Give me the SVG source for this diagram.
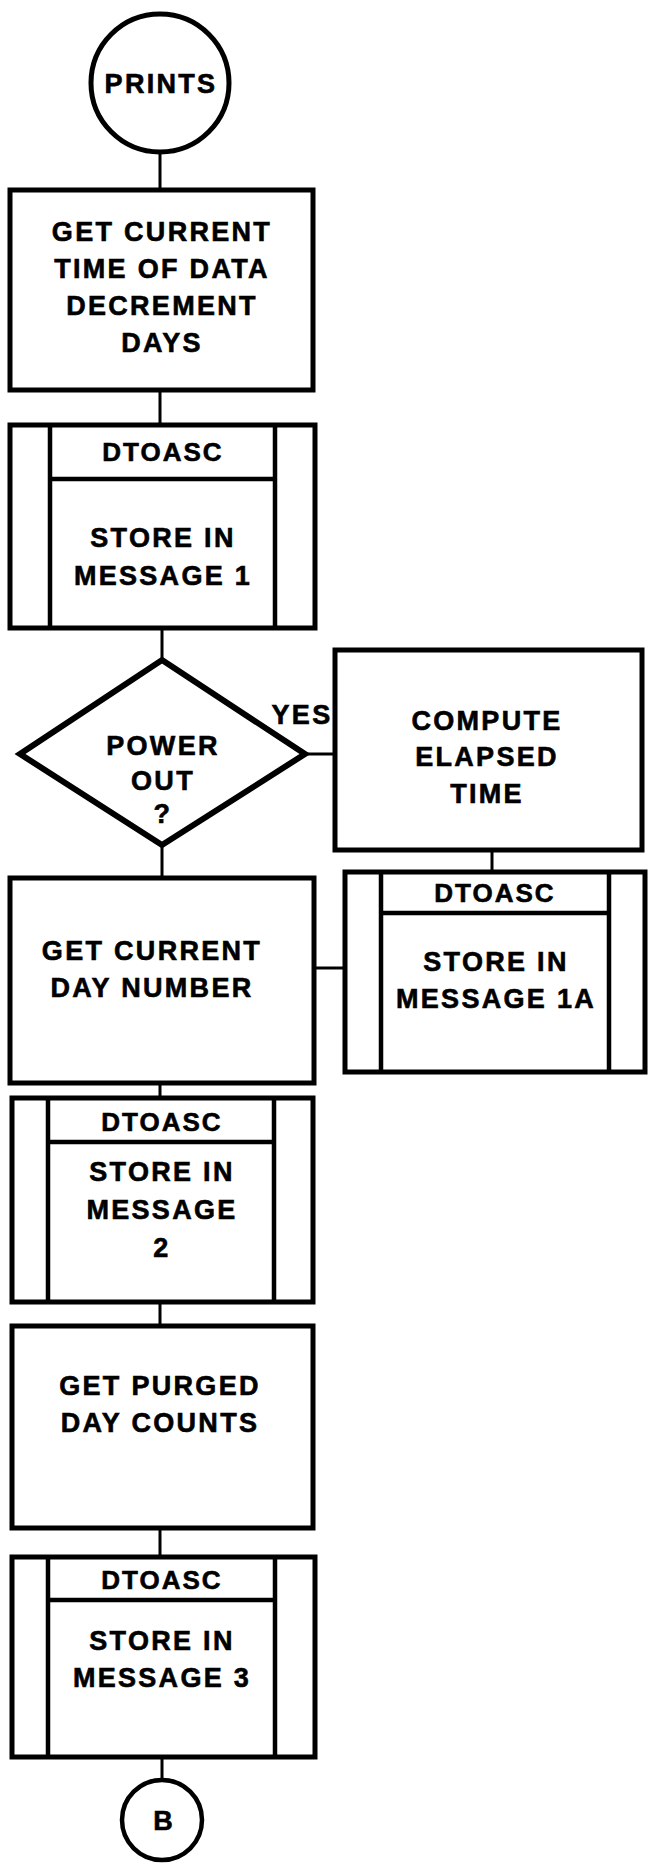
<svg xmlns="http://www.w3.org/2000/svg" width="653" height="1863" viewBox="0 0 653 1863">
<style>
.bg{fill:#fff}
.box{fill:#fff;stroke:#000;stroke-width:5;stroke-linejoin:miter}
.inner{stroke:#000;stroke-width:4.5;fill:none}
.conn{stroke:#000;stroke-width:3;fill:none}
.t{font-family:"Liberation Sans",Arial,Helvetica,sans-serif;font-weight:bold;font-size:27px;letter-spacing:2.3px;text-anchor:middle;fill:#000;stroke:#000;stroke-width:0.6px}
.h{font-size:26px;letter-spacing:2px}
</style>
<rect class="bg" x="0" y="0" width="653" height="1863"/>
<g id="connectors">
<line class="conn" x1="160" y1="152" x2="160" y2="190"/>
<line class="conn" x1="160" y1="390" x2="160" y2="425"/>
<line class="conn" x1="162" y1="628" x2="162" y2="660"/>
<line class="conn" x1="162" y1="845" x2="162" y2="878"/>
<line class="conn" x1="305" y1="754" x2="335" y2="754"/>
<line class="conn" x1="492" y1="850" x2="492" y2="872"/>
<line class="conn" x1="314" y1="968" x2="345" y2="968"/>
<line class="conn" x1="160" y1="1083" x2="160" y2="1098"/>
<line class="conn" x1="160" y1="1302" x2="160" y2="1326"/>
<line class="conn" x1="160" y1="1528" x2="160" y2="1557"/>
<line class="conn" x1="162" y1="1757" x2="162" y2="1780"/>
</g>
<g id="start">
<circle class="box" cx="160" cy="83" r="69"/>
<text class="t" x="161" y="93">PRINTS</text>
</g>
<g id="get-time">
<rect class="box" x="10" y="190" width="303" height="200"/>
<text class="t" x="162" y="241">GET CURRENT</text>
<text class="t" x="162" y="278">TIME OF DATA</text>
<text class="t" x="162" y="315">DECREMENT</text>
<text class="t" x="162" y="352">DAYS</text>
</g>
<g id="dtoasc1">
<rect class="box" x="10" y="425" width="305" height="203"/>
<line class="inner" x1="50" y1="425" x2="50" y2="628"/>
<line class="inner" x1="275" y1="425" x2="275" y2="628"/>
<line class="inner" x1="50" y1="479" x2="275" y2="479"/>
<text class="t h" x="163" y="461">DTOASC</text>
<text class="t" x="163" y="547">STORE IN</text>
<text class="t" x="163" y="585">MESSAGE 1</text>
</g>
<g id="decision">
<polygon class="box" style="stroke-width:6" points="162,660 305,754 162,845 20,754"/>
<text class="t" x="163" y="755">POWER</text>
<text class="t" x="163" y="790">OUT</text>
<text class="t" x="163" y="823">?</text>
<text class="t" x="302" y="724">YES</text>
</g>
<g id="compute">
<rect class="box" x="335" y="650" width="307" height="200"/>
<text class="t" x="487" y="730">COMPUTE</text>
<text class="t" x="487" y="766">ELAPSED</text>
<text class="t" x="487" y="803">TIME</text>
</g>
<g id="dtoasc1a">
<rect class="box" x="345" y="872" width="300" height="200"/>
<line class="inner" x1="381" y1="872" x2="381" y2="1072"/>
<line class="inner" x1="609" y1="872" x2="609" y2="1072"/>
<line class="inner" x1="381" y1="913" x2="609" y2="913"/>
<text class="t h" x="495" y="902">DTOASC</text>
<text class="t" x="496" y="971">STORE IN</text>
<text class="t" x="496" y="1008">MESSAGE 1A</text>
</g>
<g id="get-day">
<rect class="box" x="10" y="878" width="304" height="205"/>
<text class="t" x="152" y="960">GET CURRENT</text>
<text class="t" x="152" y="997">DAY NUMBER</text>
</g>
<g id="dtoasc2">
<rect class="box" x="12" y="1098" width="301" height="204"/>
<line class="inner" x1="48" y1="1098" x2="48" y2="1302"/>
<line class="inner" x1="274" y1="1098" x2="274" y2="1302"/>
<line class="inner" x1="48" y1="1142" x2="274" y2="1142"/>
<text class="t h" x="162" y="1131">DTOASC</text>
<text class="t" x="162" y="1181">STORE IN</text>
<text class="t" x="162" y="1219">MESSAGE</text>
<text class="t" x="162" y="1257">2</text>
</g>
<g id="get-purged">
<rect class="box" x="12" y="1326" width="301" height="202"/>
<text class="t" x="160" y="1395">GET PURGED</text>
<text class="t" x="160" y="1432">DAY COUNTS</text>
</g>
<g id="dtoasc3">
<rect class="box" x="12" y="1557" width="303" height="200"/>
<line class="inner" x1="48" y1="1557" x2="48" y2="1757"/>
<line class="inner" x1="275" y1="1557" x2="275" y2="1757"/>
<line class="inner" x1="48" y1="1600" x2="275" y2="1600"/>
<text class="t h" x="162" y="1589">DTOASC</text>
<text class="t" x="162" y="1650">STORE IN</text>
<text class="t" x="162" y="1687">MESSAGE 3</text>
</g>
<g id="end">
<circle class="box" style="stroke-width:4.5" cx="162" cy="1820" r="40"/>
<text class="t" x="163" y="1830" style="letter-spacing:0">B</text>
</g>
</svg>
